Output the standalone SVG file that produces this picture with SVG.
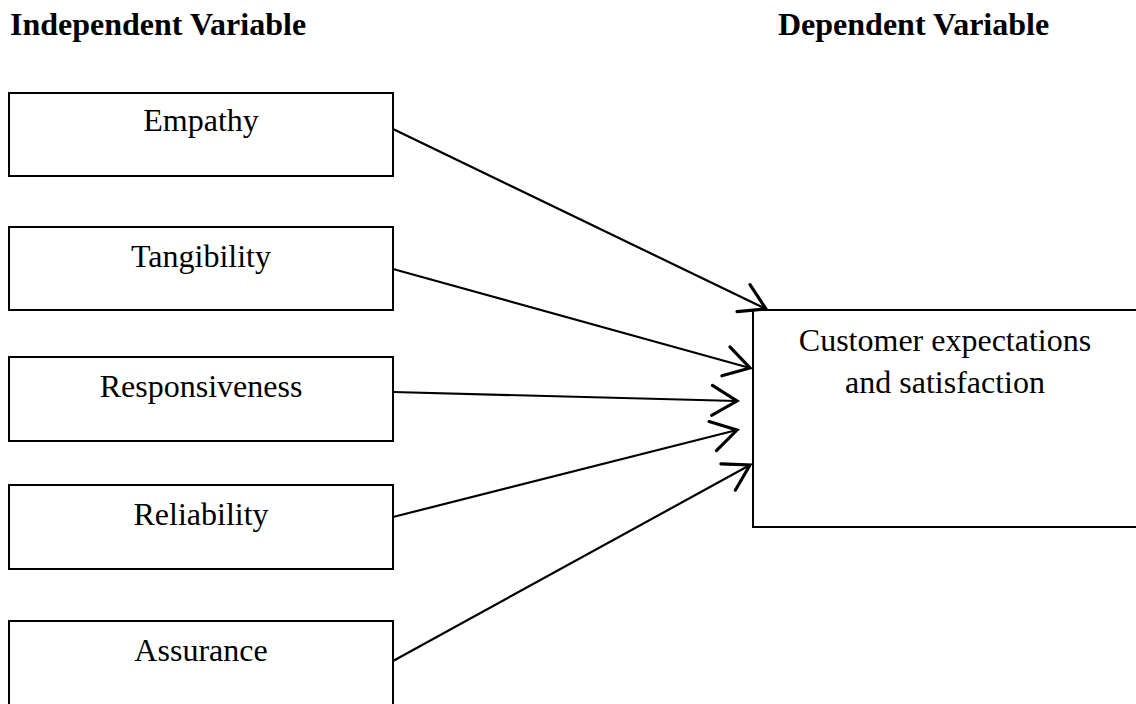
<svg xmlns="http://www.w3.org/2000/svg" width="1136" height="704" viewBox="0 0 1136 704">
<defs>
<style>
.box{fill:#fff;stroke:#000;stroke-width:2}
.lbl{font-family:"Liberation Serif","Times New Roman",serif;font-size:32px;fill:#000;text-anchor:middle}
.hdr{font-family:"Liberation Serif","Times New Roman",serif;font-size:32px;font-weight:bold;fill:#000}
.conn{stroke:#000;stroke-width:2.2;fill:none}
</style>
<marker id="arr" markerUnits="userSpaceOnUse" markerWidth="40" markerHeight="40" refX="0" refY="0" viewBox="-22 -14 26 28" orient="auto" overflow="visible">
<path d="M-17.5,-10.5 L0,0 L-17.5,10.5" fill="none" stroke="#000" stroke-width="2.2" stroke-linecap="round" stroke-linejoin="miter"/>
</marker>
</defs>
<rect width="1136" height="704" fill="#fff"/>
<text class="hdr" x="10" y="35">Independent Variable</text>
<text class="hdr" x="778" y="35">Dependent Variable</text>
<g id="n-empathy"><rect class="box" x="9" y="93" width="384" height="83"/><text class="lbl" x="201" y="131">Empathy</text></g>
<g id="n-tangibility"><rect class="box" x="9" y="227" width="384" height="83"/><text class="lbl" x="201" y="267">Tangibility</text></g>
<g id="n-responsiveness"><rect class="box" x="9" y="357" width="384" height="84"/><text class="lbl" x="201" y="397">Responsiveness</text></g>
<g id="n-reliability"><rect class="box" x="9" y="485" width="384" height="84"/><text class="lbl" x="201" y="525">Reliability</text></g>
<g id="n-assurance"><rect class="box" x="9" y="621" width="384" height="100"/><text class="lbl" x="201" y="661">Assurance</text></g>
<g id="n-customer"><rect class="box" x="753" y="310" width="420" height="217"/><text class="lbl" x="945" y="351">Customer expectations</text><text class="lbl" x="945" y="393">and satisfaction</text></g>
<g id="connectors">
<line class="conn" x1="393" y1="129" x2="766" y2="309" marker-end="url(#arr)"/>
<line class="conn" x1="393" y1="269" x2="750" y2="368" marker-end="url(#arr)"/>
<line class="conn" x1="393" y1="392" x2="737" y2="401" marker-end="url(#arr)"/>
<line class="conn" x1="393" y1="517" x2="737" y2="430" marker-end="url(#arr)"/>
<line class="conn" x1="393" y1="661" x2="750" y2="465" marker-end="url(#arr)"/>
</g>
</svg>
